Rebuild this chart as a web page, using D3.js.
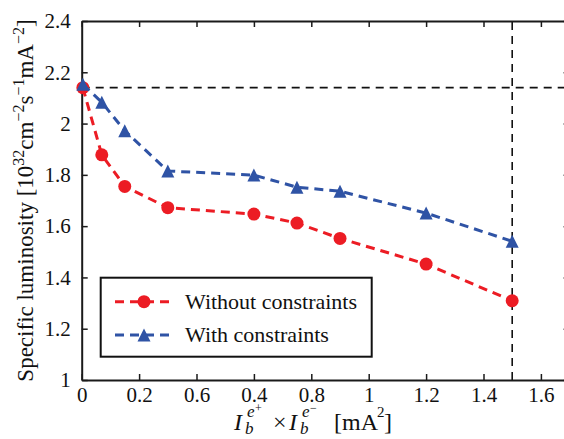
<!DOCTYPE html>
<html>
<head>
<meta charset="utf-8">
<script src="https://cdn.jsdelivr.net/npm/d3@7"></script>
<style>
  html, body { margin: 0; padding: 0; background: #fff; }
  svg { display: block; }
  svg text { font-family: "Liberation Serif", "Times New Roman", Times, "DejaVu Serif", "Noto Serif", serif; fill: #111; }
</style>
</head>
<body>
<svg id="chart" width="564" height="439"></svg>
<script>
// ---- data ----
const xValues = [0.004, 0.07, 0.15, 0.3, 0.6, 0.75, 0.9, 1.2, 1.5];
const withoutConstraints = [2.14, 1.878, 1.755, 1.672, 1.647, 1.612, 1.552, 1.452, 1.309];
const withConstraints = [2.153, 2.083, 1.972, 1.815, 1.799, 1.752, 1.736, 1.651, 1.541];
const seriesNames = ["Without constraints", "With constraints"];
const xTickValues = [0, 0.2, 0.4, 0.6, 0.8, 1.0, 1.2, 1.4, 1.6];
const xTickLabels = ["0", "0.2", "0.6", "0.4", "0.8", "1", "1.2", "1.4", "1.6"];
const yTickValues = [1, 1.2, 1.4, 1.6, 1.8, 2.0, 2.2, 2.4];
const yTickLabels = ["1", "1.2", "1.4", "1.6", "1.8", "2", "2.2", "2.4"];
const refY = 2.14;
const refX = 1.5;

// ---- layout ----
const SERIF = '"Liberation Serif", "Times New Roman", Times, "DejaVu Serif", "Noto Serif", serif';
const svg = d3.select("#chart");
const L = 81.7, T = 21, B = 380;
const x = d3.scaleLinear().domain([0, 1.7]).range([L, L + 1.7 * 287]);
const y = d3.scaleLinear().domain([1, 2.4]).range([B, T]);
const R = x(1.7);

const red = "#ec1c24", blue = "#2f53a5", axisCol = "#1a1a1a";
const fs = 21;

// reference dashed lines
svg.append("line").attr("x1", L).attr("x2", R).attr("y1", y(refY)).attr("y2", y(refY))
  .attr("stroke", "#111").attr("stroke-width", 1.6).attr("stroke-dasharray", "8,6");
svg.append("line").attr("x1", x(refX)).attr("x2", x(refX)).attr("y1", B).attr("y2", T)
  .attr("stroke", "#111").attr("stroke-width", 1.6).attr("stroke-dasharray", "8,6");

// axes
function styleAxis(g) {
  g.attr("font-family", SERIF);
  g.select(".domain").attr("stroke", axisCol).attr("stroke-width", 2);
  g.selectAll(".tick line").attr("stroke", axisCol).attr("stroke-width", 1.5);
  g.selectAll(".tick text").style("font-family", SERIF)
    .style("font-size", fs + "px").attr("fill", "#111");
}
const xb = svg.append("g").attr("transform", `translate(0,${B})`)
  .call(d3.axisBottom(x).tickValues(xTickValues).tickSizeInner(-6).tickSizeOuter(0).tickPadding(7.5)
    .tickFormat((d, i) => xTickLabels[i]));
styleAxis(xb);
const xt = svg.append("g").attr("transform", `translate(0,${T})`)
  .call(d3.axisTop(x).tickValues(xTickValues).tickSizeInner(-6).tickSizeOuter(0).tickFormat(""));
styleAxis(xt);
const yl = svg.append("g").attr("transform", `translate(${L},0)`)
  .call(d3.axisLeft(y).tickValues(yTickValues).tickSizeInner(-6).tickSizeOuter(0).tickPadding(11)
    .tickFormat((d, i) => yTickLabels[i]));
styleAxis(yl);
const yr = svg.append("g").attr("transform", `translate(${R},0)`)
  .call(d3.axisRight(y).tickValues(yTickValues).tickSizeInner(-6).tickSizeOuter(0).tickFormat(""));
styleAxis(yr);

// series
const tri = (s) => `M0,${-s / 2}L${-s / 2},${s / 2}L${s / 2},${s / 2}Z`;
function drawSeries(vals, color, marker) {
  const pts = xValues.map((xv, i) => [xv, vals[i]]);
  svg.append("path").datum(pts)
    .attr("d", d3.line().x(d => x(d[0])).y(d => y(d[1])))
    .attr("fill", "none").attr("stroke", color).attr("stroke-width", 3)
    .attr("stroke-dasharray", "9,6");
  const g = svg.append("g");
  if (marker === "circle") {
    g.selectAll("circle").data(pts).join("circle")
      .attr("cx", d => x(d[0])).attr("cy", d => y(d[1])).attr("r", 6.5).attr("fill", color);
  } else {
    g.selectAll("path").data(pts).join("path")
      .attr("transform", d => `translate(${x(d[0])},${y(d[1])})`)
      .attr("d", tri(13)).attr("fill", color);
  }
}
drawSeries(withoutConstraints, red, "circle");
drawSeries(withConstraints, blue, "triangle");

// legend
const lg = svg.append("g");
lg.append("rect").attr("x", 100.7).attr("y", 277.7).attr("width", 271).attr("height", 79)
  .attr("fill", "#fff").attr("stroke", "#111").attr("stroke-width", 2);
const rows = [{ name: seriesNames[0], color: red, m: "circle", yy: 301.7 },
              { name: seriesNames[1], color: blue, m: "triangle", yy: 335 }];
rows.forEach(r => {
  lg.append("line").attr("x1", 115).attr("x2", 173).attr("y1", r.yy).attr("y2", r.yy)
    .attr("stroke", r.color).attr("stroke-width", 3).attr("stroke-dasharray", "9,6");
  if (r.m === "circle") lg.append("circle").attr("cx", 144).attr("cy", r.yy).attr("r", 6.5).attr("fill", r.color);
  else lg.append("path").attr("transform", `translate(144,${r.yy})`).attr("d", tri(13)).attr("fill", r.color);
  lg.append("text").attr("x", 185).attr("y", r.yy).attr("dy", "0.33em")
    .style("font-family", SERIF).style("font-size", "22px").text(r.name);
});

// y label
const ylab = svg.append("text").attr("transform", `translate(33,${(T + B) / 2}) rotate(-90)`)
  .attr("text-anchor", "middle").style("font-family", SERIF).style("font-size", "23px");
const SUP = "16px";
ylab.append("tspan").text("Specific luminosity [10");
ylab.append("tspan").attr("dy", -9).style("font-size", SUP).text("32");
ylab.append("tspan").attr("dy", 9).text("cm");
ylab.append("tspan").attr("dy", -9).style("font-size", SUP).text("\u22122");
ylab.append("tspan").attr("dy", 9).text("s");
ylab.append("tspan").attr("dy", -9).style("font-size", SUP).text("\u22121");
ylab.append("tspan").attr("dy", 9).text("mA");
ylab.append("tspan").attr("dy", -9).style("font-size", SUP).text("\u22122");
ylab.append("tspan").attr("dy", 9).text("]");

// x label: I_b^{e+} x I_b^{e-} [mA^2]
const xg = svg.append("g").attr("transform", "translate(234,430)");
function piece(txt, px, size, dy, italic) {
  xg.append("text").attr("x", px).attr("y", dy)
    .style("font-family", SERIF).style("font-size", size + "px")
    .style("font-style", italic ? "italic" : "normal").text(txt);
}
piece("I", 0, 24, 0, true);
piece("b", 11, 17, 4, true);
piece("e", 13, 17, -13, true);
piece("+", 21, 12, -18, false);
piece("\u00D7", 39, 24, 0, false);
piece("I", 55, 24, 0, true);
piece("b", 66, 17, 4, true);
piece("e", 68, 17, -13, true);
piece("\u2212", 76, 12, -18, false);
piece("[mA", 100, 24, 0, false);
piece("2", 143, 15, -13, false);
piece("]", 150, 24, 0, false);
</script>
</body>
</html>
